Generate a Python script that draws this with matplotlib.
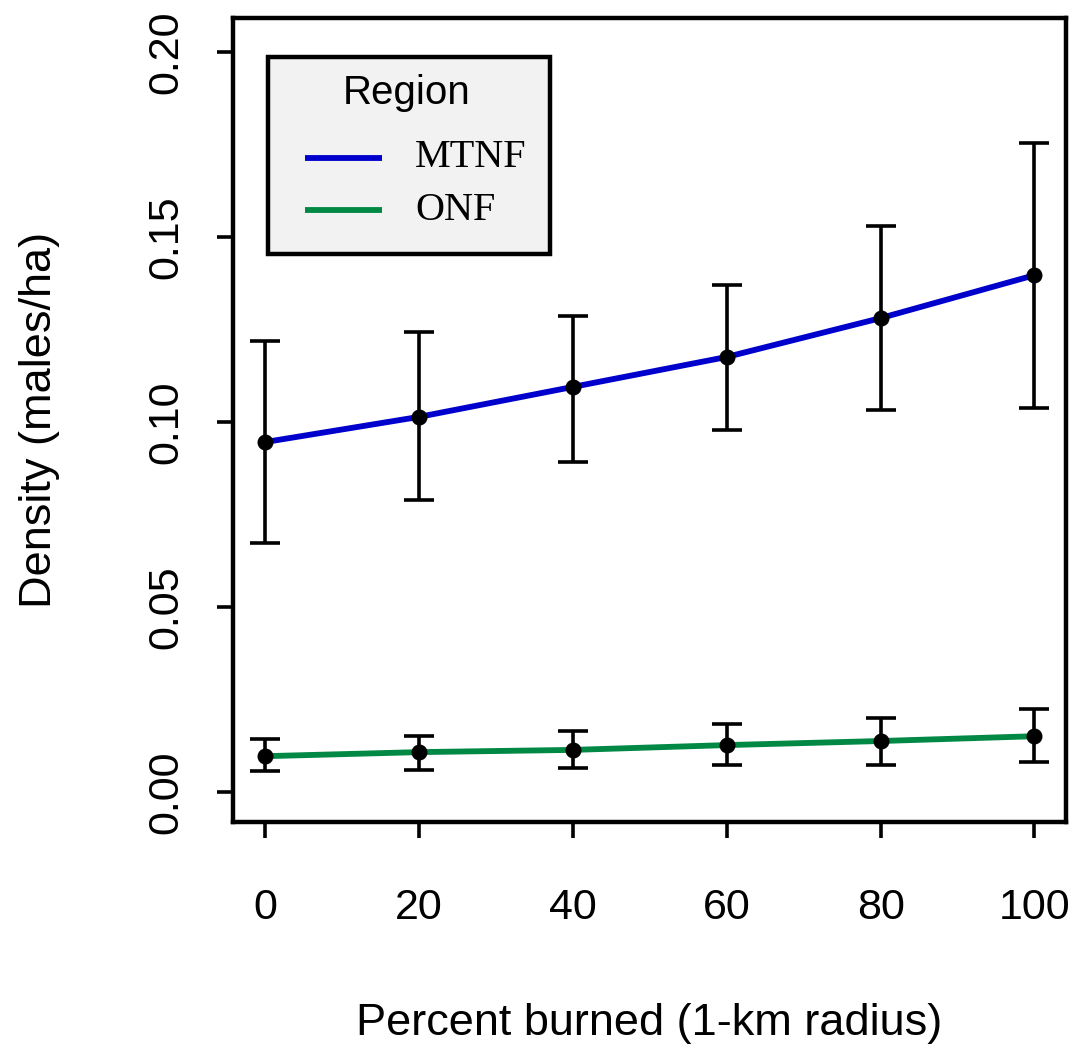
import numpy as np
import matplotlib.pyplot as plt
from matplotlib.patches import Rectangle

# percent burned within 1-km radius
burned = [0, 20, 40, 60, 80, 100]

# MTNF density estimates and CI
mtnf_est = [0.0946, 0.1014, 0.1095, 0.1176, 0.1281, 0.1397]
mtnf_lo = [0.0673, 0.0789, 0.0892, 0.0978, 0.1032, 0.1038]
mtnf_hi = [0.1219, 0.1243, 0.1286, 0.1370, 0.1530, 0.1754]

# ONF density estimates and CI
onf_est = [0.0097, 0.0108, 0.0114, 0.0127, 0.0138, 0.0151]
onf_lo = [0.0057, 0.0060, 0.0065, 0.0073, 0.0073, 0.0081]
onf_hi = [0.0143, 0.0151, 0.0165, 0.0184, 0.0200, 0.0224]

regions = ["MTNF", "ONF"]
colors = ["#0000CC", "#008844"]

yticks = [0.00, 0.05, 0.10, 0.15, 0.20]
ytick_labels = ["0.00", "0.05", "0.10", "0.15", "0.20"]
xticks = [0, 20, 40, 60, 80, 100]

sans = "Liberation Sans"
serif = "Liberation Serif"

fig = plt.figure(figsize=(10.73, 10.48), dpi=100)
ax = fig.add_axes([0.217, 0.2156, 0.7765, 0.7672])

ax.plot(burned, mtnf_est, color=colors[0], lw=4.2, solid_capstyle="butt", zorder=2)
ax.plot(burned, onf_est, color=colors[1], lw=4.2, solid_capstyle="butt", zorder=2)

for est, lo, hi in [(mtnf_est, mtnf_lo, mtnf_hi), (onf_est, onf_lo, onf_hi)]:
    est = np.array(est)
    yerr = [est - np.array(lo), np.array(hi) - est]
    ax.errorbar(burned, est, yerr=yerr, fmt="o", color="black", ms=10.5,
                elinewidth=2.6, capsize=11, capthick=2.6, zorder=3)

ax.set_xlim(-4.2, 104.1)
ax.set_ylim(-0.0081, 0.2092)

ax.set_xticks(xticks)
ax.set_xticklabels([str(v) for v in xticks], fontfamily=sans, fontsize=31)
ax.set_yticks(yticks)
ax.set_yticklabels(ytick_labels, fontfamily=sans, fontsize=31, rotation=90, va="center")
ax.tick_params(axis="both", length=11.5, width=2.6, direction="out")
ax.tick_params(axis="x", pad=36)
ax.tick_params(axis="y", pad=22)

for sp in ax.spines.values():
    sp.set_linewidth(3.2)

ax.set_xlabel("Percent burned (1-km radius)", fontfamily=sans, fontsize=32.5, labelpad=54)
ax.set_ylabel("Density (males/ha)", fontfamily=sans, fontsize=32.5, labelpad=62)

# legend box drawn by hand (R style)
ax.add_patch(Rectangle((0.042, 0.7065), 0.3386, 0.245, transform=ax.transAxes,
                       facecolor="#f2f2f2", edgecolor="black", lw=3.2, zorder=5))
ax.text(0.2089, 0.9067, "Region", transform=ax.transAxes, ha="center", va="center",
        fontfamily=sans, fontsize=29, zorder=6)
for i, (name, c) in enumerate(zip(regions, colors)):
    yy = 0.826 - i * 0.0648
    ax.plot([0.0864, 0.1789], [yy, yy], transform=ax.transAxes, color=c, lw=4.2,
            solid_capstyle="butt", zorder=6)
    ax.text(0.2185, yy, name, transform=ax.transAxes, ha="left", va="center",
            fontfamily=serif, fontsize=29, zorder=6)

fig.savefig("out.png", dpi=100)
